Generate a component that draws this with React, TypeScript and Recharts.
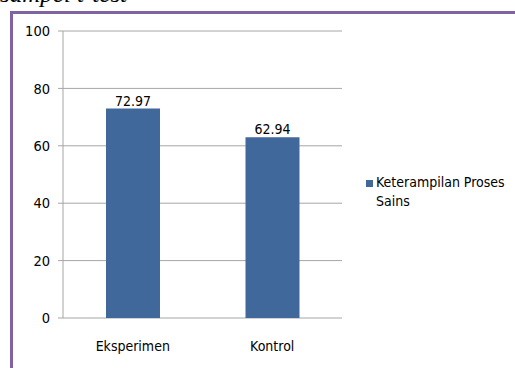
import { Bar, BarChart, CartesianGrid, LabelList, XAxis, YAxis } from "recharts";

const categories = ["Eksperimen", "Kontrol"];
const scores = [72.97, 62.94];
const yTicks = [0, 20, 40, 60, 80, 100];
const seriesName = "Keterampilan Proses Sains";

const data = categories.map((name, i) => ({ name, value: scores[i] }));

const font = "'Liberation Sans Narrow', 'DejaVu Sans Condensed', sans-serif";
const barColor = "#41689B";

export default function App() {
  return (
    <div style={{ position: "fixed", left: 0, top: 0, width: 515, height: 368, overflow: "hidden", background: "#fff" }}>
      <div
        style={{
          position: "absolute",
          left: 0,
          top: -19,
          fontFamily: "'Liberation Serif', serif",
          fontStyle: "italic",
          fontSize: 25,
          lineHeight: "25px",
          whiteSpace: "nowrap",
        }}
      >
        sampel t-test
      </div>
      <div
        style={{
          position: "absolute",
          left: 10,
          top: 11,
          width: 520,
          height: 370,
          border: "3px solid #8064A2",
          boxSizing: "border-box",
        }}
      />
      <div style={{ position: "absolute", left: 0, top: 0 }}>
        <BarChart
          width={515}
          height={368}
          data={data}
          margin={{ top: 31, right: 173, bottom: 20, left: 0 }}
          barCategoryGap={43}
        >
          <CartesianGrid vertical={false} stroke="#A6A6A6" />
          <XAxis
            xAxisId="edge"
            type="number"
            domain={[0, 2]}
            ticks={[0, 1, 2]}
            allowDataOverflow
            height={0}
            stroke="#A6A6A6"
            tickSize={5}
            tick={() => <g />}
          />
          <XAxis
            xAxisId="cat"
            dataKey="name"
            height={30}
            interval={0}
            axisLine={false}
            tickLine={false}
            tickSize={5}
            tickMargin={18}
            tick={{ fontFamily: font, fontSize: 14, fill: "#000" }}
          />
          <YAxis
            width={63}
            domain={[0, 100]}
            ticks={yTicks}
            stroke="#A6A6A6"
            tickSize={5}
            tickMargin={8}
            tick={{ fontFamily: font, fontSize: 14.5, fill: "#000" }}
          />
          <Bar dataKey="value" xAxisId="cat" name={seriesName} fill={barColor} isAnimationActive={false}>
            <LabelList
              dataKey="value"
              position="top"
              offset={3}
              style={{ fontFamily: font, fontSize: 14, fill: "#000" }}
              formatter={(v: number) => v.toFixed(2)}
            />
          </Bar>
        </BarChart>
      </div>
      <div
        style={{
          position: "absolute",
          left: 366,
          top: 173,
          display: "flex",
          alignItems: "flex-start",
          fontFamily: font,
          fontSize: 14,
          lineHeight: "19px",
          color: "#000",
        }}
      >
        <span style={{ width: 7, height: 7, background: barColor, marginTop: 7, marginRight: 3, flex: "none" }} />
        <span style={{ width: 138 }}>{seriesName}</span>
      </div>
    </div>
  );
}
